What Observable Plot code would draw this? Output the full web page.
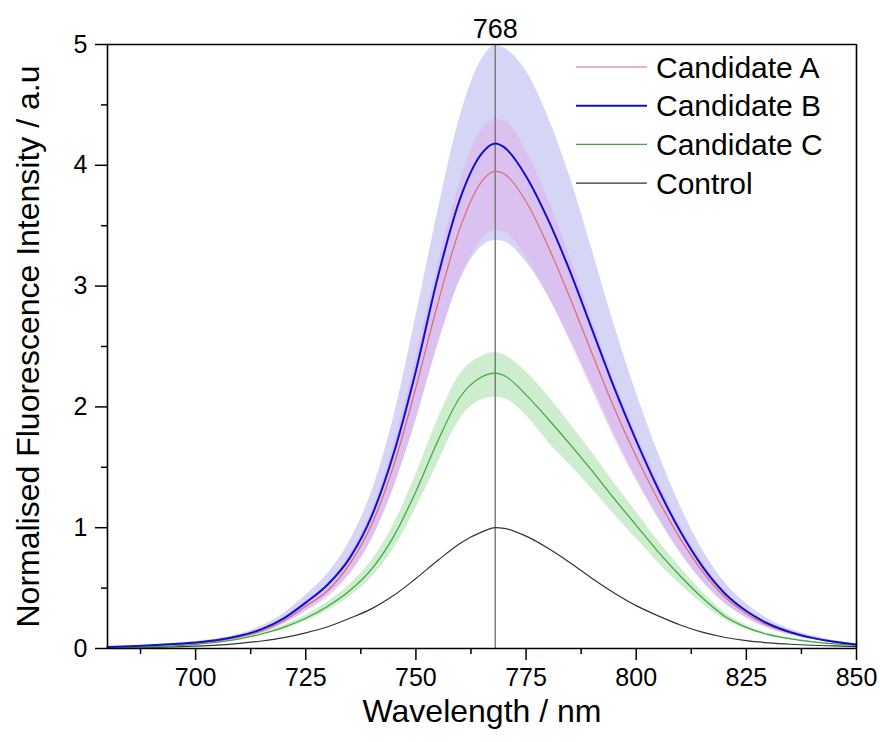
<!DOCTYPE html>
<html><head><meta charset="utf-8">
<script src="https://cdn.jsdelivr.net/npm/d3@7"></script>
<script src="https://cdn.jsdelivr.net/npm/@observablehq/plot@0.6"></script>
<style>
body{margin:0;background:#fff;}
#chart{width:880px;height:742px;font-family:"Liberation Sans",Arial,sans-serif;}
</style>
</head><body><div id="chart"></div>
<script>
const wavelengths = [680,685,690,695,700,705,710,715,720,725,730,735,740,745,750,755,760,765,768,770,775,780,785,790,795,800,805,810,815,820,825,830,835,840,845,850];

const controlMean = [0.004,0.006,0.009,0.013,0.019,0.028,0.042,0.062,0.09,0.13,0.18,0.25,0.33,0.44,0.58,0.73,0.87,0.965,1.00,0.995,0.93,0.83,0.71,0.58,0.46,0.355,0.27,0.195,0.135,0.093,0.065,0.047,0.035,0.027,0.021,0.016];

const candAMean = [0.011,0.016,0.023,0.033,0.045,0.063,0.095,0.145,0.23,0.35,0.48,0.70,1.03,1.52,2.16,2.86,3.48,3.87,3.95,3.93,3.70,3.33,2.90,2.44,1.99,1.59,1.23,0.91,0.64,0.43,0.29,0.19,0.13,0.085,0.053,0.032];
const candALow  = [0.0096,0.014,0.02,0.029,0.039,0.055,0.083,0.127,0.20,0.307,0.42,0.61,0.90,1.33,1.89,2.51,3.05,3.39,3.46,3.45,3.24,2.92,2.54,2.14,1.74,1.39,1.08,0.80,0.56,0.38,0.255,0.166,0.114,0.074,0.046,0.028];
const candAHigh = [0.012,0.018,0.026,0.037,0.05,0.07,0.105,0.16,0.255,0.39,0.53,0.78,1.14,1.69,2.40,3.17,3.86,4.30,4.38,4.37,4.12,3.72,3.24,2.72,2.22,1.78,1.38,1.02,0.72,0.48,0.32,0.21,0.145,0.094,0.059,0.036];

const candBMean = [0.012,0.018,0.026,0.037,0.05,0.07,0.105,0.16,0.25,0.38,0.53,0.75,1.10,1.62,2.30,3.08,3.72,4.10,4.18,4.15,3.91,3.55,3.12,2.64,2.16,1.72,1.32,0.97,0.68,0.46,0.31,0.205,0.135,0.088,0.055,0.033];
const candBLow  = [0.010,0.015,0.021,0.03,0.041,0.057,0.086,0.13,0.205,0.31,0.44,0.62,0.91,1.34,1.89,2.52,3.05,3.33,3.38,3.37,3.20,2.92,2.56,2.17,1.77,1.41,1.08,0.79,0.555,0.375,0.253,0.168,0.11,0.072,0.045,0.027];
const candBHigh = [0.014,0.021,0.03,0.043,0.058,0.081,0.12,0.185,0.29,0.44,0.62,0.89,1.30,1.92,2.75,3.62,4.40,4.88,4.99,4.97,4.78,4.40,3.90,3.30,2.68,2.12,1.62,1.18,0.82,0.55,0.37,0.245,0.16,0.105,0.066,0.04];

const candCMean = [0.006,0.009,0.014,0.022,0.034,0.052,0.08,0.12,0.175,0.25,0.35,0.48,0.66,0.93,1.30,1.72,2.08,2.25,2.28,2.26,2.10,1.90,1.69,1.47,1.24,1.02,0.80,0.60,0.42,0.27,0.175,0.115,0.08,0.055,0.038,0.025];
const candCLow  = [0.0054,0.008,0.013,0.02,0.031,0.047,0.072,0.108,0.157,0.225,0.315,0.43,0.59,0.83,1.16,1.54,1.90,2.06,2.08,2.07,1.93,1.71,1.52,1.32,1.11,0.91,0.71,0.53,0.37,0.24,0.157,0.103,0.072,0.05,0.034,0.023];
const candCHigh = [0.0066,0.01,0.015,0.024,0.037,0.057,0.088,0.132,0.193,0.275,0.385,0.53,0.73,1.03,1.44,1.90,2.27,2.42,2.45,2.43,2.29,2.09,1.86,1.62,1.37,1.13,0.89,0.67,0.47,0.30,0.193,0.127,0.088,0.06,0.042,0.027];

const seriesNames = ["Candidate A","Candidate B","Candidate C","Control"];
const seriesColors = ["#dd6b6f","#1010d0","#3aa83a","#333333"];
const seriesWidths = [1.2,2,1.2,1.2];
const peakWavelength = 768;
const xTicks = [700,725,750,775,800,825,850];
const xMinorTicks = [687.5,712.5,737.5,762.5,787.5,812.5,837.5];
const yTicks = [0,1,2,3,4,5];
const yMinorTicks = [0.5,1.5,2.5,3.5,4.5];

const rows = wavelengths.map((wl,i)=>({
  wl,
  control: controlMean[i],
  a: candAMean[i], aLow: candALow[i], aHigh: candAHigh[i],
  b: candBMean[i], bLow: candBLow[i], bHigh: candBHigh[i],
  c: candCMean[i], cLow: candCLow[i], cHigh: candCHigh[i]
}));

const curve = "monotone-x";
const font = "Liberation Sans, Arial, sans-serif";

const plot = Plot.plot({
  width: 880, height: 742,
  marginLeft: 107, marginRight: 24, marginTop: 44, marginBottom: 94,
  style: {fontFamily: font, background: "white", color: "black"},
  x: {domain: [680, 850]},
  y: {domain: [0, 5]},
  marks: [
    Plot.areaY(rows, {x: "wl", y1: "bLow", y2: "bHigh", fill: "#d5d5f6", curve}),
    Plot.areaY(rows, {x: "wl", y1: "aLow", y2: "aHigh", fill: "#e3a3e6", fillOpacity: 0.4, curve}),
    Plot.areaY(rows, {x: "wl", y1: "cLow", y2: "cHigh", fill: "#a6dca6", fillOpacity: 0.55, curve}),
    Plot.ruleX([peakWavelength], {stroke: "#6e6e6e", strokeWidth: 1.3}),
    Plot.lineY(rows, {x: "wl", y: "control", stroke: seriesColors[3], strokeWidth: seriesWidths[3], curve}),
    Plot.lineY(rows, {x: "wl", y: "c", stroke: seriesColors[2], strokeWidth: seriesWidths[2], curve}),
    Plot.lineY(rows, {x: "wl", y: "a", stroke: seriesColors[0], strokeWidth: seriesWidths[0], curve}),
    Plot.lineY(rows, {x: "wl", y: "b", stroke: seriesColors[1], strokeWidth: seriesWidths[1], curve}),
    Plot.ruleY([5], {stroke: "black", strokeWidth: 1.6}),
    Plot.ruleX([850], {stroke: "black", strokeWidth: 1.6}),
    Plot.ruleY([0], {stroke: "black", strokeWidth: 1.6}),
    Plot.ruleX([680], {stroke: "black", strokeWidth: 1.6}),
    Plot.axisX({ticks: xTicks, tickSize: 12, tickPadding: 8, fontSize: 25, strokeWidth: 1.5, tickFormat: d => String(d), label: null}),
    Plot.axisX({ticks: xMinorTicks, tickSize: 6, strokeWidth: 1.5, tickFormat: () => "", label: null}),
    Plot.axisY({ticks: yTicks, tickSize: 12, tickPadding: 8, fontSize: 25, strokeWidth: 1.5, tickFormat: d => String(d), label: null}),
    Plot.axisY({ticks: yMinorTicks, tickSize: 6, strokeWidth: 1.5, tickFormat: () => "", label: null}),
    Plot.text([String(peakWavelength)], {x: peakWavelength, frameAnchor: "top", lineAnchor: "middle", dy: -15, fontSize: 27, fill: "black", text: d => d}),
    Plot.text(["Wavelength / nm"], {frameAnchor: "bottom", dy: 73, fontSize: 32, fill: "black", text: d => d}),
    Plot.text(["Normalised Fluorescence Intensity / a.u"], {frameAnchor: "left", textAnchor: "middle", dx: -79, rotate: -90, fontSize: 32, fill: "black", text: d => d})
  ]
});

// legend inside the plot frame (top right)
const svg = d3.select(plot.tagName.toLowerCase() === "svg" ? plot : plot.querySelector("svg"));
const lg = svg.append("g").attr("font-family", font).attr("font-size", 30).attr("text-anchor", "start");
seriesNames.forEach((name, i) => {
  const y = 67 + i * 38.7;
  lg.append("line").attr("x1", 576).attr("x2", 647).attr("y1", y).attr("y2", y)
    .attr("stroke", seriesColors[i]).attr("stroke-width", seriesWidths[i]);
  lg.append("text").attr("x", 656).attr("y", y).attr("dy", "0.35em").attr("fill", "black").text(name);
});

document.getElementById("chart").appendChild(plot);
</script>
</body></html>
